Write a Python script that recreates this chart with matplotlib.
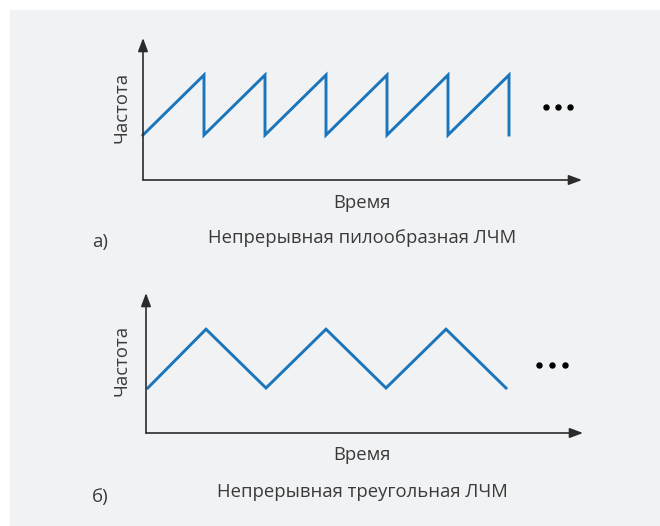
import matplotlib.pyplot as plt
from matplotlib.patches import Rectangle

plt.rcParams['font.family'] = ['Open Sans', 'DejaVu Sans']

# пилообразная ЛЧМ: время / частота
saw_t = [0, 1, 1, 2, 2, 3, 3, 4, 4, 5, 5, 6, 6]
saw_f = [0.75, 1.75, 0.75, 1.75, 0.75, 1.75, 0.75, 1.75, 0.75, 1.75, 0.75, 1.75, 0.75]

# треугольная ЛЧМ
tri_t = [0.03, 1.0, 2.0, 3.0, 4.0, 5.0, 6.0]
tri_f = [0.75, 1.73, 0.75, 1.73, 0.75, 1.73, 0.75]

dots_top = [6.6, 6.8, 7.0]
dots_bot = [6.55, 6.77, 6.98]

labels = ["а)", "б)"]
titles = ["Непрерывная пилообразная ЛЧМ", "Непрерывная треугольная ЛЧМ"]

W, H = 660, 526
blue = '#1a75bb'
ink = '#2b2b2b'
txt = '#3a3a3a'
fs = 13.3

fig = plt.figure(figsize=(W / 100, H / 100), dpi=100, facecolor='white')
fig.patches.append(Rectangle((10 / W, 0), 1 - 10 / W, 1 - 10 / H,
                             transform=fig.transFigure, color='#f1f2f4', zorder=-5))


def px_axes(x0, y0, x1, y1):
    # оси в пикселях (начало слева снизу, y сверху вниз на картинке)
    return fig.add_axes([x0 / W, 1 - y0 / H, (x1 - x0) / W, (y0 - y1) / H])


def draw_axes(ax, xmax, ymax):
    ax.set_xlim(0, xmax)
    ax.set_ylim(0, ymax)
    ax.axis('off')
    ax.patch.set_visible(False)
    arr = dict(arrowstyle='-|>,head_length=0.8,head_width=0.3', color=ink,
               lw=1.2, shrinkA=0, shrinkB=0)
    ax.annotate('', xy=(xmax, 0), xytext=(0, 0), arrowprops=arr, annotation_clip=False)
    ax.annotate('', xy=(0, ymax), xytext=(0, 0), arrowprops=arr, annotation_clip=False)


# верхний график
ax1 = px_axes(143, 180, 582, 38)
draw_axes(ax1, 439 / 61, 142 / 60)
ax1.plot(saw_t, saw_f, color=blue, lw=2.1, solid_joinstyle='miter', clip_on=False)
ax1.plot(dots_top, [1.22] * 3, 'o', color='black', ms=3.6, clip_on=False)

# нижний график
ax2 = px_axes(146, 433, 583, 293)
draw_axes(ax2, 437 / 60, 140 / 60)
ax2.plot(tri_t, tri_f, color=blue, lw=2.1, solid_joinstyle='miter', clip_on=False)
ax2.plot(dots_bot, [1.13] * 3, 'o', color='black', ms=3.6, clip_on=False)

for yc, lab_y, ttl_y, sub_y, i in [(107, 203, 238, 242, 0), (360, 455, 492, 497, 1)]:
    fig.text(122 / W, 1 - yc / H, "Частота", rotation=90, ha='center', va='center',
             fontsize=fs, color=txt)
    fig.text(362 / W, 1 - lab_y / H, "Время", ha='center', va='center',
             fontsize=fs, color=txt)
    fig.text(362 / W, 1 - ttl_y / H, titles[i], ha='center', va='center',
             fontsize=fs, color=txt)
    fig.text(92 / W, 1 - sub_y / H, labels[i], ha='left', va='center',
             fontsize=fs, color=txt)

fig.savefig('out.png', dpi=100, facecolor='white')
